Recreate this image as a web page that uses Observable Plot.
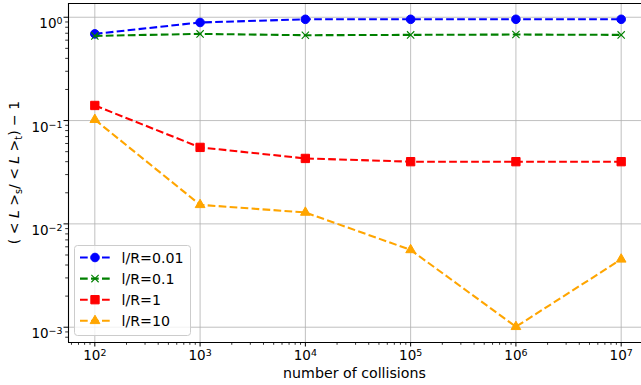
<!DOCTYPE html>
<html>
<head>
<meta charset="utf-8">
<script src="https://cdn.jsdelivr.net/npm/d3@7"></script>
<script src="https://cdn.jsdelivr.net/npm/@observablehq/plot@0.6"></script>
<style>
  html, body { margin: 0; padding: 0; background: white; }
  #chart { width: 641px; height: 385px; overflow: hidden; }
  #chart svg { display: block; }
</style>
</head>
<body>
<div id="chart"></div>
<script>
// ---- data ----
const collisions = [1e2, 1e3, 1e4, 1e5, 1e6, 1e7];
const seriesNames = ["l/R=0.01", "l/R=0.1", "l/R=1", "l/R=10"];
const lr001 = [0.69, 0.89, 0.955, 0.955, 0.955, 0.955];
const lr01  = [0.66, 0.69, 0.67, 0.675, 0.68, 0.675];
const lr1   = [0.14, 0.055, 0.043, 0.040, 0.040, 0.040];
const lr10  = [0.102, 0.0153, 0.0129, 0.0056, 0.00101, 0.00454];
const xTicks = [1e2, 1e3, 1e4, 1e5, 1e6, 1e7];
const xTickLabels = ["10^2", "10^3", "10^4", "10^5", "10^6", "10^7"];
const yTicks = [1e-3, 1e-2, 1e-1, 1e0];
const yTickLabels = ["10^-3", "10^-2", "10^-1", "10^0"];
const xLabel = "number of collisions";

// ---- styles ----
const values = [lr001, lr01, lr1, lr10];
const styles = [
  {color: "#0000ff", symbol: "circle",   r: 4.3, fill: true},
  {color: "#008000", symbol: "times",    r: 3.4, fill: false},
  {color: "#ff0000", symbol: "square",   r: 4.7, fill: true},
  {color: "#ffa500", symbol: "triangle", r: 3.6, fill: true}
];

const xDomain = [Math.pow(10, 1.75), Math.pow(10, 7.193)];
const yDomain = [Math.pow(10, -3.148), Math.pow(10, 0.133)];

function minorTicks(domain) {
  const out = [];
  for (let e = -5; e <= 9; e++) for (let m = 2; m <= 9; m++) {
    const v = m * Math.pow(10, e);
    if (v >= domain[0] && v <= domain[1]) out.push(v);
  }
  return out;
}

const seriesMarks = seriesNames.flatMap((name, i) => {
  const rows = collisions.map((n, j) => ({n, v: values[i][j], s: name}));
  const st = styles[i];
  return [
    Plot.line(rows, {x: "n", y: "v", stroke: st.color, strokeWidth: 2.08,
      strokeDasharray: "7.7,3.3", strokeLinecap: "butt", strokeLinejoin: "round"}),
    Plot.dot(rows, {x: "n", y: "v", symbol: st.symbol, r: st.r,
      fill: st.fill ? st.color : "none", stroke: st.color, strokeWidth: st.fill ? 1 : 1.1})
  ];
});

const fmt = (labels, ticks) => (d) => labels[ticks.indexOf(d)] ?? "";

const plot = Plot.plot({
  width: 641,
  height: 385,
  marginLeft: 68,
  marginRight: 0,
  marginTop: 3,
  marginBottom: 43,
  style: {fontFamily: "DejaVu Sans", fontSize: "13.5px", color: "black", background: "white", overflow: "visible"},
  x: {type: "log", domain: xDomain, label: null},
  y: {type: "log", domain: yDomain, label: null},
  marks: [
    Plot.gridX(xTicks, {stroke: "#b0b0b0", strokeOpacity: 1, strokeWidth: 0.8}),
    Plot.gridY(yTicks, {stroke: "#b0b0b0", strokeOpacity: 1, strokeWidth: 0.8}),
    ...seriesMarks,
    Plot.ruleX([xDomain[0]], {stroke: "black", strokeWidth: 1.1}),
    Plot.ruleY([yDomain[0]], {stroke: "black", strokeWidth: 1.1}),
    Plot.ruleY([yDomain[1]], {stroke: "black", strokeWidth: 1.1}),
    Plot.axisX(minorTicks(xDomain), {anchor: "bottom", tickSize: 2.8, tickFormat: () => "", label: null, strokeWidth: 0.8}),
    Plot.axisY(minorTicks(yDomain), {anchor: "left", tickSize: 2.8, tickFormat: () => "", label: null, strokeWidth: 0.8}),
    Plot.axisX(xTicks, {anchor: "bottom", tickSize: 4.5, tickPadding: 3.5, tickFormat: fmt(xTickLabels, xTicks), label: null, strokeWidth: 1}),
    Plot.axisY(yTicks, {anchor: "left", tickSize: 4.5, tickPadding: 1.5, tickFormat: fmt(yTickLabels, yTicks), label: null, strokeWidth: 1})
  ]
});

document.getElementById("chart").appendChild(plot);

const svg = d3.select(plot);
// superscripts in tick labels
svg.selectAll("text").each(function() {
  const t = d3.select(this);
  const txt = t.text();
  const m = /^10\^(-?\d+)$/.exec(txt);
  if (!m) return;
  const isY = this.closest("[aria-label='y-axis tick label']") !== null;
  t.text("");
  t.append("tspan").text("10");
  t.append("tspan").attr("dy", "-0.42em").attr("font-size", "0.7em")
    .text(m[1].replace("-", "\u2212"));
  if (isY) t.attr("dy", "0.5em");
});

const xs = plot.scale("x"), ys = plot.scale("y");
const xCenter = (xs.apply(xDomain[0]) + xs.apply(xDomain[1])) / 2;
const yCenter = (ys.apply(yDomain[0]) + ys.apply(yDomain[1])) / 2;

// x label
svg.append("text").attr("x", xCenter).attr("y", 378)
  .attr("text-anchor", "middle").attr("font-size", "14.2px").attr("fill", "black")
  .text(xLabel);

// y label (mathtext-like)
const yl = svg.append("text")
  .attr("transform", `translate(19,${yCenter}) rotate(-90)`)
  .attr("text-anchor", "middle").attr("font-size", "14px").attr("fill", "black");
yl.append("tspan").text("( < ");
yl.append("tspan").attr("font-style", "italic").text("L");
yl.append("tspan").text(" >");
yl.append("tspan").attr("font-size", "0.7em").attr("dy", "0.3em").text("s");
yl.append("tspan").attr("dy", "-0.21em").text("/ < ");
yl.append("tspan").attr("font-style", "italic").text("L");
yl.append("tspan").text(" >");
yl.append("tspan").attr("font-size", "0.7em").attr("dy", "0.3em").text("t");
yl.append("tspan").attr("dy", "-0.21em").text(") \u2212 1");

// legend
const lg = svg.append("g");
lg.append("rect").attr("x", 74.5).attr("y", 245.5).attr("width", 116).attr("height", 90)
  .attr("rx", 3).attr("fill", "white").attr("fill-opacity", 0.8)
  .attr("stroke", "#cccccc").attr("stroke-width", 1);
const symMap = {circle: d3.symbolCircle, times: d3.symbolTimes, square: d3.symbolSquare, triangle: d3.symbolTriangle};
seriesNames.forEach((name, i) => {
  const st = styles[i];
  const cy = 257.5 + i * 21.1;
  lg.append("line").attr("x1", 80).attr("x2", 110).attr("y1", cy).attr("y2", cy)
    .attr("stroke", st.color).attr("stroke-width", 2.08).attr("stroke-dasharray", "7.7,3.3");
  lg.append("path").attr("transform", `translate(95,${cy})`)
    .attr("d", d3.symbol(symMap[st.symbol], Math.PI * st.r * st.r)())
    .attr("fill", st.fill ? st.color : "none").attr("stroke", st.color)
    .attr("stroke-width", st.fill ? 1 : 1.1);
  lg.append("text").attr("x", 121.5).attr("y", cy).attr("dy", "0.36em")
    .attr("text-anchor", "start")
    .attr("font-size", "14.2px").attr("fill", "black").text(name);
});
</script>
</body>
</html>
